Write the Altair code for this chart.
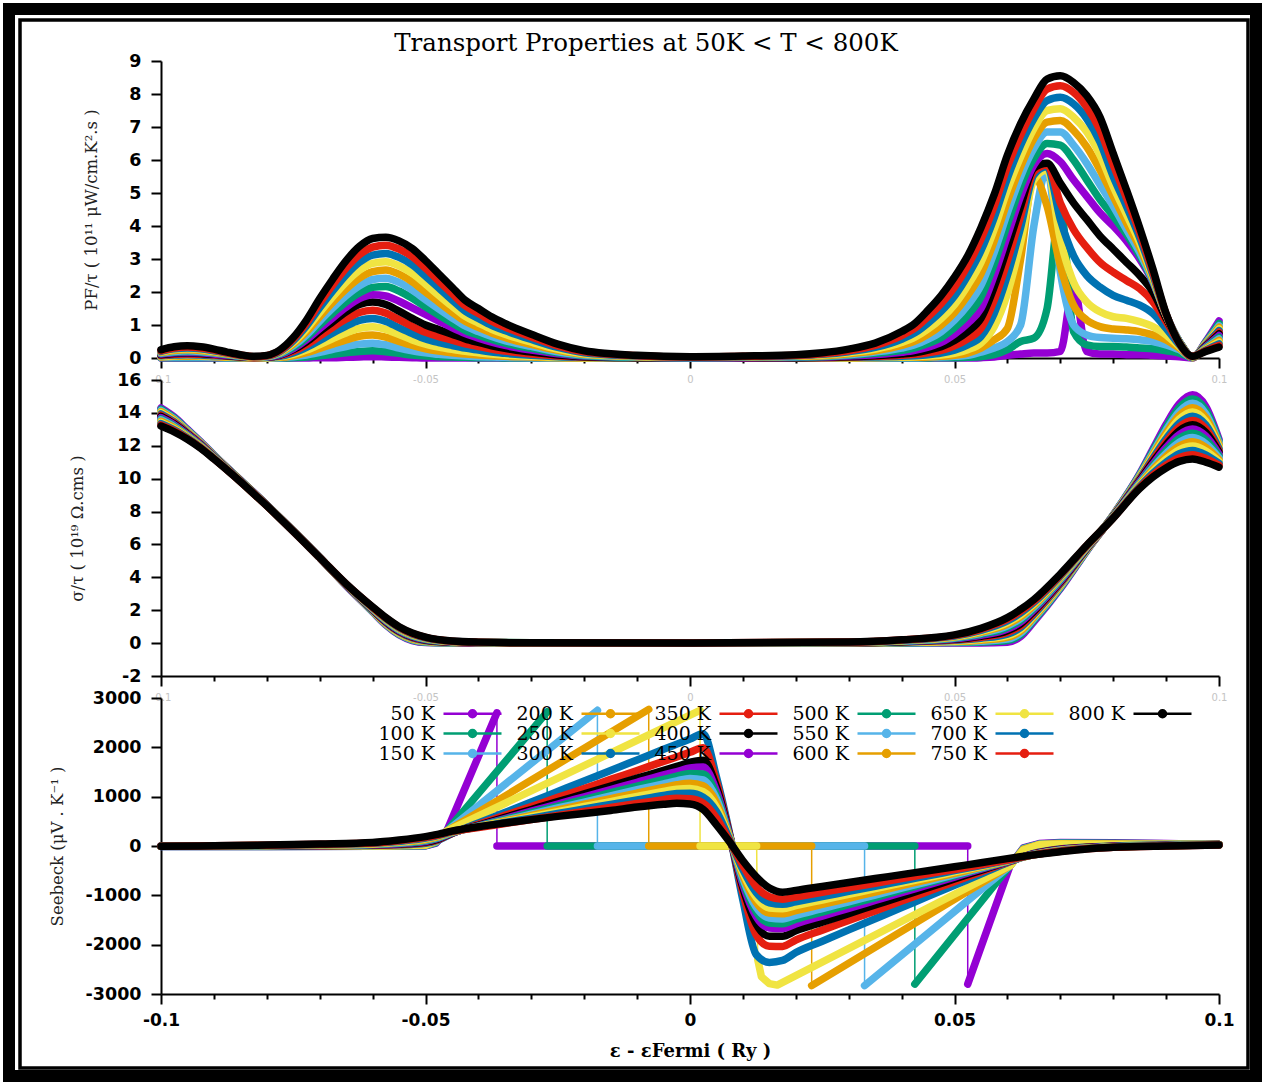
import altair as alt
import pandas as pd

FIG = "\u2007"
MINUS = "\u2212"

TEMPS = [FIG + "50 K", "100 K", "150 K", "200 K", "250 K", "300 K", "350 K", "400 K",
         "450 K", "500 K", "550 K", "600 K", "650 K", "700 K", "750 K", "800 K"]
PALETTE = ["#9400d3", "#009e73", "#56b4e9", "#e69f00", "#f0e442", "#0072b2", "#e51e10", "#000000"]
SERIES_COLORS = PALETTE + PALETTE

# ---------------- PF/tau panel ----------------
X_PF = [-0.1, -0.0975, -0.095, -0.0925, -0.09, -0.0875, -0.085, -0.0825, -0.08, -0.0775,
        -0.075, -0.0725, -0.07, -0.0675, -0.065, -0.0625, -0.06, -0.0575, -0.055, -0.0525,
        -0.05, -0.0475, -0.045, -0.0425, -0.04, -0.0375, -0.035, -0.03, -0.025, -0.02,
        -0.01, 0.0, 0.01, 0.02, 0.025, 0.03, 0.035, 0.04, 0.0425, 0.045,
        0.0475, 0.05, 0.0525, 0.055, 0.0575, 0.06, 0.0625, 0.065, 0.0675, 0.07,
        0.0725, 0.075, 0.0775, 0.08, 0.0825, 0.085, 0.0875, 0.09, 0.0925, 0.095, 0.0975, 0.1]

PF_50 = [0, 0, 0, 0, 0, 0, 0, 0, 0, 0, 0, 0, 0.01, 0.01, 0.02, 0.03, 0.04, 0.03, 0.02, 0.01, 0, 0, 0, 0, 0, 0, 0, 0, 0, 0, 0, 0,
         0, 0, 0, 0, 0, 0, 0, 0, 0, 0, 0, 0.01, 0.03, 0.08, 0.12, 0.15, 0.15, 0.2, 2.2, 0.2, 0.12, 0.12, 0.1, 0.1, 0.08, 0.06, 0.04, 0.0, 0.5, 1.12]
PF_100 = [0.01, 0.01, 0.01, 0.01, 0.01, 0, 0, 0, 0, 0, 0.01, 0.03, 0.07, 0.11, 0.16, 0.20, 0.22, 0.19, 0.14, 0.09, 0.06, 0.04, 0.03, 0.02, 0.01, 0.01, 0, 0, 0, 0, 0, 0,
          0, 0, 0, 0, 0, 0, 0, 0, 0.01, 0.01, 0.02, 0.04, 0.1, 0.25, 0.5, 0.6, 1.5, 4.6, 0.8, 0.4, 0.35, 0.35, 0.33, 0.3, 0.28, 0.22, 0.15, 0.01, 0.48, 1.05]
PF_150 = [0.02, 0.03, 0.03, 0.03, 0.02, 0.01, 0.01, 0.0, 0.0, 0.01, 0.04, 0.09, 0.17, 0.26, 0.35, 0.42, 0.45, 0.40, 0.30, 0.22, 0.16, 0.11, 0.08, 0.06, 0.04, 0.03, 0.02, 0.01, 0.0, 0.0, 0.0, 0.0,
          0, 0, 0, 0, 0, 0.01, 0.01, 0.02, 0.03, 0.05, 0.08, 0.18, 0.3, 0.5, 1.0, 4.0, 5.7, 2.6, 1.0, 0.7, 0.62, 0.6, 0.58, 0.55, 0.5, 0.4, 0.25, 0.01, 0.46, 0.98]
PF_200 = [0.03, 0.05, 0.05, 0.05, 0.04, 0.02, 0.01, 0.0, 0.01, 0.02, 0.07, 0.16, 0.29, 0.42, 0.55, 0.66, 0.70, 0.63, 0.50, 0.38, 0.28, 0.21, 0.16, 0.12, 0.09, 0.07, 0.05, 0.03, 0.01, 0.0, 0.0, 0.0,
          0, 0, 0, 0, 0.01, 0.02, 0.02, 0.03, 0.05, 0.08, 0.15, 0.3, 0.55, 0.9, 3.0, 5.5, 4.6, 2.8, 1.6, 1.15, 0.95, 0.88, 0.85, 0.8, 0.7, 0.55, 0.3, 0.01, 0.44, 0.93]
PF_250 = [0.05, 0.07, 0.08, 0.07, 0.06, 0.04, 0.02, 0.01, 0.01, 0.04, 0.11, 0.24, 0.41, 0.59, 0.76, 0.90, 0.95, 0.87, 0.71, 0.55, 0.42, 0.33, 0.26, 0.20, 0.16, 0.12, 0.09, 0.05, 0.02, 0.01, 0.0, 0.0,
          0, 0, 0, 0.01, 0.02, 0.03, 0.04, 0.06, 0.09, 0.14, 0.25, 0.45, 0.95, 1.95, 3.5, 5.4, 5.7, 3.6, 2.3, 1.7, 1.4, 1.25, 1.2, 1.1, 0.95, 0.7, 0.35, 0.02, 0.42, 0.88]
PF_300 = [0.07, 0.09, 0.10, 0.09, 0.07, 0.05, 0.03, 0.01, 0.02, 0.05, 0.15, 0.32, 0.53, 0.76, 0.97, 1.14, 1.20, 1.11, 0.92, 0.74, 0.58, 0.47, 0.38, 0.30, 0.24, 0.18, 0.14, 0.08, 0.04, 0.02, 0.0, 0.0,
          0.0, 0.0, 0.01, 0.02, 0.03, 0.05, 0.07, 0.1, 0.15, 0.24, 0.4, 0.65, 1.35, 2.5, 3.95, 5.55, 5.8, 4.2, 3.1, 2.5, 2.15, 1.9, 1.75, 1.6, 1.35, 0.9, 0.4, 0.02, 0.4, 0.83]
PF_350 = [0.08, 0.11, 0.12, 0.11, 0.09, 0.06, 0.03, 0.01, 0.02, 0.07, 0.20, 0.40, 0.66, 0.93, 1.18, 1.38, 1.45, 1.36, 1.16, 0.96, 0.78, 0.65, 0.54, 0.43, 0.35, 0.27, 0.21, 0.12, 0.06, 0.03, 0.01, 0.0,
          0.0, 0.01, 0.01, 0.03, 0.05, 0.08, 0.11, 0.16, 0.23, 0.37, 0.58, 0.9, 1.75, 2.95, 4.3, 5.65, 5.85, 4.7, 3.9, 3.35, 2.9, 2.6, 2.35, 2.1, 1.7, 1.1, 0.45, 0.02, 0.38, 0.78]
PF_400 = [0.10, 0.14, 0.15, 0.14, 0.11, 0.07, 0.04, 0.02, 0.03, 0.09, 0.25, 0.49, 0.80, 1.10, 1.40, 1.62, 1.70, 1.62, 1.42, 1.20, 1.00, 0.86, 0.72, 0.58, 0.47, 0.37, 0.29, 0.18, 0.09, 0.04, 0.01, 0.0,
          0.01, 0.01, 0.02, 0.04, 0.07, 0.12, 0.16, 0.24, 0.34, 0.53, 0.8, 1.2, 2.15, 3.35, 4.6, 5.75, 5.9, 5.3, 4.7, 4.2, 3.7, 3.3, 2.9, 2.5, 2.0, 1.2, 0.5, 0.03, 0.36, 0.73]
PF_450 = [0.12, 0.16, 0.17, 0.16, 0.12, 0.08, 0.05, 0.02, 0.03, 0.10, 0.28, 0.55, 0.89, 1.22, 1.54, 1.80, 1.92, 1.88, 1.72, 1.52, 1.32, 1.12, 0.92, 0.74, 0.60, 0.48, 0.38, 0.24, 0.13, 0.06, 0.02, 0.01,
          0.01, 0.02, 0.03, 0.06, 0.1, 0.17, 0.23, 0.33, 0.47, 0.72, 1.05, 1.5, 2.5, 3.7, 4.9, 5.85, 6.2, 5.95, 5.4, 4.9, 4.4, 4.0, 3.55, 3.0, 2.3, 1.3, 0.5, 0.03, 0.34, 0.68]
PF_500 = [0.14, 0.18, 0.20, 0.18, 0.15, 0.10, 0.05, 0.02, 0.04, 0.12, 0.32, 0.62, 1.00, 1.36, 1.70, 1.97, 2.14, 2.17, 2.03, 1.81, 1.55, 1.30, 1.06, 0.84, 0.69, 0.56, 0.45, 0.29, 0.16, 0.07, 0.02, 0.01,
          0.02, 0.03, 0.04, 0.08, 0.14, 0.23, 0.31, 0.44, 0.62, 0.92, 1.3, 1.85, 2.85, 4.05, 5.2, 6.05, 6.5, 6.45, 6.0, 5.4, 4.8, 4.3, 3.75, 3.1, 2.32, 1.3, 0.5, 0.03, 0.32, 0.63]
PF_550 = [0.15, 0.20, 0.22, 0.20, 0.16, 0.11, 0.06, 0.03, 0.04, 0.14, 0.37, 0.70, 1.12, 1.52, 1.89, 2.19, 2.38, 2.42, 2.29, 2.06, 1.77, 1.49, 1.22, 0.97, 0.80, 0.65, 0.53, 0.35, 0.19, 0.09, 0.03, 0.01,
          0.02, 0.04, 0.06, 0.1, 0.18, 0.3, 0.4, 0.57, 0.8, 1.15, 1.6, 2.2, 3.2, 4.4, 5.5, 6.35, 6.85, 6.85, 6.45, 5.9, 5.25, 4.6, 3.9, 3.2, 2.35, 1.3, 0.49, 0.04, 0.3, 0.58]
PF_600 = [0.17, 0.23, 0.25, 0.23, 0.18, 0.12, 0.07, 0.03, 0.05, 0.16, 0.42, 0.79, 1.25, 1.69, 2.09, 2.42, 2.62, 2.67, 2.54, 2.31, 2.00, 1.69, 1.39, 1.11, 0.93, 0.76, 0.62, 0.41, 0.23, 0.11, 0.04, 0.02,
          0.03, 0.05, 0.07, 0.13, 0.22, 0.38, 0.51, 0.72, 1.0, 1.38, 1.9, 2.55, 3.55, 4.75, 5.8, 6.65, 7.15, 7.2, 6.9, 6.4, 5.7, 4.9, 4.1, 3.35, 2.4, 1.3, 0.48, 0.04, 0.28, 0.53]
PF_650 = [0.19, 0.26, 0.28, 0.26, 0.20, 0.14, 0.08, 0.03, 0.05, 0.18, 0.47, 0.88, 1.38, 1.86, 2.30, 2.66, 2.87, 2.92, 2.79, 2.56, 2.24, 1.90, 1.57, 1.26, 1.06, 0.87, 0.72, 0.48, 0.27, 0.13, 0.05, 0.02,
          0.04, 0.06, 0.09, 0.16, 0.27, 0.47, 0.63, 0.88, 1.2, 1.62, 2.2, 2.9, 3.9, 5.1, 6.1, 6.95, 7.5, 7.55, 7.3, 6.85, 6.15, 5.2, 4.35, 3.5, 2.45, 1.31, 0.47, 0.04, 0.26, 0.48]
PF_700 = [0.20, 0.28, 0.30, 0.28, 0.22, 0.15, 0.08, 0.04, 0.06, 0.20, 0.52, 0.97, 1.52, 2.04, 2.52, 2.90, 3.12, 3.17, 3.05, 2.82, 2.48, 2.12, 1.76, 1.42, 1.20, 0.99, 0.83, 0.56, 0.32, 0.16, 0.06, 0.03,
          0.04, 0.07, 0.11, 0.19, 0.32, 0.57, 0.76, 1.06, 1.42, 1.88, 2.5, 3.25, 4.25, 5.45, 6.45, 7.25, 7.8, 7.9, 7.7, 7.25, 6.55, 5.5, 4.6, 3.65, 2.52, 1.32, 0.46, 0.05, 0.24, 0.43]
PF_750 = [0.22, 0.30, 0.33, 0.30, 0.24, 0.16, 0.09, 0.04, 0.07, 0.22, 0.57, 1.06, 1.66, 2.22, 2.73, 3.13, 3.36, 3.42, 3.30, 3.07, 2.72, 2.33, 1.95, 1.58, 1.35, 1.12, 0.94, 0.64, 0.37, 0.19, 0.07, 0.03,
          0.05, 0.08, 0.13, 0.22, 0.38, 0.68, 0.9, 1.25, 1.65, 2.15, 2.8, 3.6, 4.6, 5.8, 6.75, 7.55, 8.15, 8.25, 8.05, 7.6, 6.9, 5.85, 4.85, 3.8, 2.6, 1.33, 0.45, 0.05, 0.22, 0.38]
PF_800 = [0.25, 0.34, 0.37, 0.34, 0.27, 0.18, 0.10, 0.05, 0.08, 0.25, 0.62, 1.15, 1.80, 2.40, 2.95, 3.38, 3.62, 3.66, 3.55, 3.32, 2.95, 2.55, 2.15, 1.75, 1.50, 1.25, 1.05, 0.72, 0.42, 0.22, 0.08, 0.04,
          0.06, 0.10, 0.16, 0.27, 0.45, 0.8, 1.05, 1.45, 1.9, 2.45, 3.1, 3.95, 4.95, 6.15, 7.1, 7.85, 8.45, 8.55, 8.35, 7.95, 7.3, 6.2, 5.1, 3.95, 2.7, 1.35, 0.45, 0.05, 0.2, 0.33]

# ---------------- sigma/tau panel ----------------
X_SG = [-0.1, -0.0975, -0.095, -0.0925, -0.09, -0.08, -0.07, -0.065, -0.06, -0.0575,
        -0.055, -0.0525, -0.05, -0.045, -0.04, -0.03, 0.0, 0.03, 0.04, 0.05,
        0.055, 0.06, 0.0625, 0.065, 0.07, 0.075, 0.08, 0.085, 0.0875, 0.09,
        0.0925, 0.095, 0.0975, 0.1]
SG_50 = [14.3, 13.75, 13.0, 12.25, 11.45, 8.4, 5.2, 3.5, 1.9, 1.1, 0.5, 0.15, 0.03, 0.0, 0.0, 0.0, 0.0, 0.0, 0.0, 0.0, 0.0, 0.05, 0.4, 1.3, 3.3, 5.6, 7.8, 10.3, 11.8, 13.3, 14.55, 15.1, 14.4, 12.4]
SG_100 = [14.23, 13.69, 12.96, 12.22, 11.43, 8.4, 5.2, 3.51, 1.92, 1.13, 0.53, 0.18, 0.05, 0.01, 0.0, 0.0, 0.0, 0.0, 0.01, 0.03, 0.06, 0.15, 0.51, 1.39, 3.36, 5.62, 7.79, 10.24, 11.69, 13.12, 14.32, 14.84, 14.17, 12.29]
SG_150 = [14.15, 13.63, 12.92, 12.2, 11.42, 8.39, 5.2, 3.51, 1.94, 1.16, 0.57, 0.21, 0.08, 0.02, 0.01, 0.0, 0.0, 0.01, 0.03, 0.07, 0.12, 0.25, 0.62, 1.48, 3.42, 5.65, 7.77, 10.18, 11.57, 12.95, 14.08, 14.58, 13.95, 12.17]
SG_200 = [14.08, 13.57, 12.88, 12.17, 11.4, 8.39, 5.2, 3.52, 1.96, 1.19, 0.6, 0.24, 0.1, 0.03, 0.01, 0.0, 0.0, 0.01, 0.04, 0.1, 0.18, 0.35, 0.73, 1.57, 3.48, 5.67, 7.76, 10.12, 11.46, 12.77, 13.85, 14.32, 13.72, 12.06]
SG_250 = [14.01, 13.51, 12.84, 12.14, 11.38, 8.39, 5.2, 3.53, 1.98, 1.22, 0.63, 0.28, 0.12, 0.03, 0.02, 0.01, 0.0, 0.02, 0.05, 0.13, 0.24, 0.45, 0.84, 1.66, 3.54, 5.69, 7.75, 10.06, 11.35, 12.59, 13.62, 14.06, 13.49, 11.95]
SG_300 = [13.93, 13.45, 12.8, 12.12, 11.37, 8.38, 5.2, 3.53, 2.0, 1.25, 0.67, 0.31, 0.14, 0.04, 0.02, 0.01, 0.0, 0.02, 0.07, 0.17, 0.3, 0.55, 0.95, 1.75, 3.6, 5.72, 7.73, 10.0, 11.23, 12.42, 13.38, 13.8, 13.27, 11.83]
SG_350 = [13.86, 13.39, 12.76, 12.09, 11.35, 8.38, 5.2, 3.54, 2.02, 1.28, 0.7, 0.34, 0.17, 0.05, 0.02, 0.01, 0.0, 0.02, 0.08, 0.2, 0.36, 0.65, 1.06, 1.84, 3.66, 5.74, 7.72, 9.94, 11.12, 12.24, 13.15, 13.54, 13.04, 11.72]
SG_400 = [13.79, 13.33, 12.72, 12.06, 11.33, 8.38, 5.2, 3.55, 2.04, 1.31, 0.73, 0.37, 0.19, 0.06, 0.03, 0.01, 0.0, 0.03, 0.09, 0.23, 0.42, 0.75, 1.17, 1.93, 3.72, 5.76, 7.71, 9.88, 11.01, 12.06, 12.92, 13.28, 12.81, 11.61]
SG_450 = [13.71, 13.27, 12.68, 12.04, 11.32, 8.37, 5.2, 3.55, 2.06, 1.34, 0.77, 0.4, 0.21, 0.07, 0.03, 0.01, 0.0, 0.03, 0.11, 0.27, 0.48, 0.85, 1.28, 2.02, 3.78, 5.79, 7.69, 9.82, 10.89, 11.89, 12.68, 13.02, 12.59, 11.49]
SG_500 = [13.64, 13.21, 12.64, 12.01, 11.3, 8.37, 5.2, 3.56, 2.08, 1.37, 0.8, 0.43, 0.23, 0.08, 0.04, 0.01, 0.01, 0.04, 0.12, 0.3, 0.54, 0.95, 1.39, 2.11, 3.84, 5.81, 7.68, 9.76, 10.78, 11.71, 12.45, 12.76, 12.36, 11.38]
SG_550 = [13.57, 13.15, 12.6, 11.98, 11.28, 8.37, 5.2, 3.57, 2.1, 1.4, 0.83, 0.46, 0.26, 0.09, 0.04, 0.01, 0.01, 0.04, 0.13, 0.33, 0.6, 1.05, 1.5, 2.2, 3.9, 5.83, 7.67, 9.7, 10.67, 11.53, 12.22, 12.5, 12.13, 11.27]
SG_600 = [13.49, 13.09, 12.56, 11.96, 11.27, 8.36, 5.2, 3.57, 2.12, 1.43, 0.87, 0.49, 0.28, 0.1, 0.04, 0.01, 0.01, 0.04, 0.15, 0.37, 0.66, 1.15, 1.61, 2.29, 3.96, 5.86, 7.65, 9.64, 10.55, 11.36, 11.98, 12.24, 11.91, 11.15]
SG_650 = [13.42, 13.03, 12.52, 11.93, 11.25, 8.36, 5.2, 3.58, 2.14, 1.46, 0.9, 0.53, 0.3, 0.1, 0.05, 0.02, 0.01, 0.05, 0.16, 0.4, 0.72, 1.25, 1.72, 2.38, 4.02, 5.88, 7.64, 9.58, 10.44, 11.18, 11.75, 11.98, 11.68, 11.04]
SG_700 = [13.35, 12.97, 12.48, 11.9, 11.23, 8.36, 5.2, 3.59, 2.16, 1.49, 0.93, 0.56, 0.32, 0.11, 0.05, 0.02, 0.01, 0.05, 0.17, 0.43, 0.78, 1.35, 1.83, 2.47, 4.08, 5.9, 7.63, 9.52, 10.33, 11.0, 11.52, 11.72, 11.45, 10.93]
SG_750 = [13.27, 12.91, 12.44, 11.88, 11.22, 8.35, 5.2, 3.59, 2.18, 1.52, 0.97, 0.59, 0.35, 0.12, 0.06, 0.02, 0.01, 0.06, 0.19, 0.47, 0.84, 1.45, 1.94, 2.56, 4.14, 5.93, 7.61, 9.46, 10.21, 10.83, 11.28, 11.46, 11.23, 10.81]
SG_800 = [13.2, 12.85, 12.4, 11.85, 11.2, 8.35, 5.2, 3.6, 2.2, 1.55, 1.0, 0.62, 0.37, 0.13, 0.06, 0.02, 0.01, 0.06, 0.2, 0.5, 0.9, 1.55, 2.05, 2.65, 4.2, 5.95, 7.6, 9.4, 10.1, 10.65, 11.05, 11.2, 11.0, 10.7]

# ---------------- Seebeck panel ----------------
SBX_50 = [-0.1, -0.08, -0.06, -0.05, -0.048, -0.046, -0.0365, -0.0365, 0.0525, 0.0525, 0.0605, 0.063, 0.066, 0.07, 0.08, 0.09, 0.1]
SBY_50 = [-10, -10, -5, 0, 60, 300, 2700, 0, 0, -2800, -400, -40, 50, 70, 65, 50, 30]
SBS_50 = [0, 0, 0, 0, 0, 0, 0, 1, 1, 2, 2, 2, 2, 2, 2, 2, 2]
SBX_100 = [-0.1, -0.08, -0.06, -0.05, -0.048, -0.046, -0.027, -0.027, 0.0425, 0.0425, 0.0605, 0.063, 0.066, 0.07, 0.08, 0.09, 0.1]
SBY_100 = [-8, -8, -4, 5, 70, 300, 2720, 0, 0, -2800, -400, -50, 40, 60, 55, 45, 30]
SBS_100 = [0, 0, 0, 0, 0, 0, 0, 1, 1, 2, 2, 2, 2, 2, 2, 2, 2]
SBX_150 = [-0.1, -0.08, -0.06, -0.05, -0.048, -0.046, -0.0175, -0.0175, 0.033, 0.033, 0.0605, 0.063, 0.066, 0.07, 0.08, 0.09, 0.1]
SBY_150 = [-6, -6, -2, 10, 80, 300, 2750, 0, 0, -2830, -400, -60, 35, 50, 45, 40, 30]
SBS_150 = [0, 0, 0, 0, 0, 0, 0, 1, 1, 2, 2, 2, 2, 2, 2, 2, 2]
SBX_200 = [-0.1, -0.08, -0.06, -0.05, -0.048, -0.046, -0.0078, -0.0078, 0.023, 0.023, 0.0605, 0.063, 0.066, 0.07, 0.08, 0.09, 0.1]
SBY_200 = [-5, -5, 0, 15, 90, 300, 2770, 0, 0, -2830, -400, -70, 30, 45, 40, 35, 30]
SBS_200 = [0, 0, 0, 0, 0, 0, 0, 1, 1, 2, 2, 2, 2, 2, 2, 2, 2]
SBX_250 = [-0.1, -0.08, -0.06, -0.05, -0.048, -0.046, 0.0019, 0.0019, 0.0126, 0.0128, 0.0135, 0.015, 0.0165, 0.0605, 0.063, 0.066, 0.07, 0.08, 0.09, 0.1]
SBY_250 = [-4, -4, 0, 20, 100, 300, 2750, 0, 0, -2300, -2650, -2790, -2820, -400, -80, 25, 40, 35, 30, 30]
SBS_250 = [0, 0, 0, 0, 0, 0, 0, 1, 1, 2, 2, 2, 2, 2, 2, 2, 2, 2, 2, 2]

X_SB = [-0.1, -0.09, -0.08, -0.07, -0.06, -0.055, -0.05, -0.0475, -0.045,
        -0.04, -0.035, -0.03, -0.025, -0.02, -0.015, -0.01, -0.005, -0.0025, 0.0, 0.0025, 0.005, 0.0075, 0.01, 0.0125, 0.015,
        0.0175, 0.02, 0.025, 0.03, 0.035, 0.04, 0.045, 0.05, 0.055, 0.06, 0.065, 0.07, 0.075, 0.08, 0.09, 0.1]
SB_300 = [-1, 0, 2, 5, 11, 23, 57, 123, 250, 465, 677, 890, 1105, 1320, 1530, 1745, 1960, 2065, 2170, 2275, 1400, 250, -1100, -2200, -2360,
          -2320, -2160, -1930, -1700, -1475, -1250, -1020, -795, -570, -340, -150, -60, -20, 0, 20, 30]
SB_350 = [-1, 0, 3, 7, 15, 30, 68, 134, 255, 438, 620, 800, 985, 1165, 1350, 1530, 1715, 1805, 1900, 1990, 1300, 230, -950, -1800, -2030,
          -2035, -1905, -1705, -1510, -1315, -1115, -920, -725, -525, -330, -155, -65, -25, -5, 15, 30]
SB_400 = [-2, 0, 4, 9, 20, 38, 80, 145, 260, 420, 580, 740, 900, 1055, 1215, 1375, 1535, 1615, 1695, 1740, 1200, 210, -850, -1580, -1830,
          -1830, -1720, -1545, -1370, -1195, -1020, -845, -670, -495, -320, -160, -70, -30, -8, 12, 28]
SB_450 = [-2, 0, 5, 12, 25, 47, 92, 156, 265, 410, 555, 705, 850, 998, 1145, 1290, 1440, 1510, 1580, 1600, 1120, 200, -780, -1430, -1660,
          -1670, -1580, -1420, -1265, -1105, -945, -790, -630, -470, -315, -165, -75, -35, -10, 10, 27]
SB_500 = [-3, 1, 6, 15, 30, 56, 105, 168, 270, 405, 540, 675, 810, 945, 1080, 1215, 1350, 1415, 1470, 1460, 1040, 190, -720, -1330, -1560,
          -1575, -1485, -1340, -1190, -1045, -895, -750, -600, -455, -310, -170, -80, -38, -13, 8, 26]
SB_550 = [-3, 1, 8, 18, 36, 65, 118, 180, 275, 398, 520, 645, 770, 890, 1015, 1140, 1260, 1320, 1370, 1340, 960, 180, -660, -1240, -1460,
          -1480, -1405, -1270, -1130, -995, -855, -720, -580, -445, -305, -172, -85, -42, -16, 6, 25]
SB_600 = [-4, 2, 10, 22, 42, 75, 132, 192, 280, 393, 507, 620, 733, 847, 960, 1073, 1185, 1240, 1270, 1220, 880, 170, -600, -1140, -1360,
          -1375, -1310, -1185, -1060, -935, -805, -680, -555, -430, -300, -175, -90, -45, -18, 5, 24]
SB_650 = [-4, 2, 12, 26, 48, 85, 146, 204, 285, 388, 490, 593, 696, 800, 900, 1005, 1105, 1150, 1165, 1100, 790, 150, -540, -1040, -1255,
          -1270, -1210, -1095, -980, -865, -750, -640, -525, -410, -295, -177, -95, -48, -20, 4, 23]
SB_700 = [-5, 3, 14, 30, 55, 96, 160, 216, 290, 382, 475, 566, 660, 750, 843, 935, 1025, 1065, 1070, 990, 700, 130, -480, -940, -1150,
          -1180, -1130, -1025, -920, -815, -710, -605, -500, -395, -290, -178, -100, -52, -23, 3, 22]
SB_750 = [-5, 4, 17, 35, 62, 108, 175, 228, 295, 375, 456, 537, 618, 700, 780, 860, 940, 970, 960, 870, 570, 100, -400, -820, -1030,
          -1080, -1035, -940, -845, -755, -660, -565, -475, -380, -285, -180, -108, -56, -27, 2, 21]
SB_800 = [-5, 5, 20, 40, 70, 120, 190, 240, 300, 390, 465, 535, 600, 660, 720, 790, 845, 865, 850, 740, 430, 80, -300, -620, -850,
          -935, -900, -820, -740, -660, -580, -500, -420, -340, -255, -180, -115, -60, -27, 2, 20]

# ticks
X_TICKS = [-0.1, -0.09, -0.08, -0.07, -0.06, -0.05, -0.04, -0.03, -0.02, -0.01, 0.0,
           0.01, 0.02, 0.03, 0.04, 0.05, 0.06, 0.07, 0.08, 0.09, 0.1]
PF_TICKS = [0, 1, 2, 3, 4, 5, 6, 7, 8, 9]
SG_TICKS = [-2, 0, 2, 4, 6, 8, 10, 12, 14, 16]
SB_TICKS = [-3000, -2000, -1000, 0, 1000, 2000, 3000]

# ---------------- build tables ----------------
PF_SERIES = [PF_50, PF_100, PF_150, PF_200, PF_250, PF_300, PF_350, PF_400,
             PF_450, PF_500, PF_550, PF_600, PF_650, PF_700, PF_750, PF_800]
SG_SERIES = [SG_50, SG_100, SG_150, SG_200, SG_250, SG_300, SG_350, SG_400,
             SG_450, SG_500, SG_550, SG_600, SG_650, SG_700, SG_750, SG_800]
SB_LOW = [(SBX_50, SBY_50, SBS_50), (SBX_100, SBY_100, SBS_100), (SBX_150, SBY_150, SBS_150),
          (SBX_200, SBY_200, SBS_200), (SBX_250, SBY_250, SBS_250)]
SB_HIGH = [SB_300, SB_350, SB_400, SB_450, SB_500, SB_550, SB_600, SB_650, SB_700, SB_750, SB_800]


def table(xs_list, ys_list, names, segs_list=None):
    rows = []
    for k, (xs, ys, name) in enumerate(zip(xs_list, ys_list, names)):
        for i, (x, y) in enumerate(zip(xs, ys)):
            r = {"x": x, "v": y, "T": name, "k": k, "i": i}
            if segs_list is not None:
                r["seg"] = segs_list[k][i]
            rows.append(r)
    return pd.DataFrame(rows)


pf_df = table([X_PF] * 16, PF_SERIES, TEMPS)
sg_df = table([X_SG] * 16, SG_SERIES, TEMPS)
sb_low_df = table([s[0] for s in SB_LOW], [s[1] for s in SB_LOW], TEMPS[:5], [s[2] for s in SB_LOW])
sb_high_df = table([X_SB] * 11, SB_HIGH, TEMPS[5:])

# legend: 3 rows x 6 columns filled column by column; two blank slots complete the grid
LEG_DOMAIN = TEMPS + [" ", "  "]
LEG_RANGE = SERIES_COLORS + ["rgba(0,0,0,0)", "rgba(0,0,0,0)"]

# symbol = short line with a dot, drawn to the right of the (right-aligned) label
SYMBOL = ("M2.25,0L9.5,0"
          "M6.315,0A0.44,0.44,0,1,1,5.435,0A0.44,0.44,0,1,1,6.315,0"
          "M6.065,0A0.19,0.19,0,1,1,5.685,0A0.19,0.19,0,1,1,6.065,0")

LEGEND = alt.Legend(
    orient="none", legendX=215, legendY=643, columns=6, title=None,
    symbolType=SYMBOL, symbolSize=256, symbolStrokeWidth=2.5, symbolOffset=40,
    symbolFillColor="transparent",
    labelOffset=0, labelAlign="right", labelFont="DejaVu Serif", labelFontSize=19,
    labelColor="black", labelLimit=0, columnPadding=7, rowPadding=-3,
)
COLOR = alt.Color("T:N", scale=alt.Scale(domain=LEG_DOMAIN, range=LEG_RANGE), legend=LEGEND)

MAJOR = "abs(round(datum.value * 100)) % 5 == 0"
X_LABELS = MAJOR + " ? replace(format(datum.value, '~g'), '" + MINUS + "', '-') : ''"
Y_LABELS = "replace(format(datum.value, 'd'), '" + MINUS + "', '-')"
X_SCALE = alt.Scale(domain=[-0.1, 0.1], nice=False, zero=False)


def x_axis(bottom):
    kw = dict(values=X_TICKS, labelExpr=X_LABELS,
              tickSize={"condition": {"test": MAJOR, "value": 10}, "value": 5},
              tickWidth=2, tickColor="black", domainColor="black", domainWidth=2,
              grid=False, labelFlush=False, labelOverlap=False, labelFont="DejaVu Sans")
    if bottom:
        kw.update(labelFontWeight="bold", labelFontSize=17, labelColor="black", labelPadding=8,
                  title="\u03b5 - \u03b5Fermi ( Ry )", titleFont="DejaVu Serif", titleFontWeight="bold",
                  titleFontSize=18, titleColor="black", titlePadding=14)
    else:
        kw.update(labelFontSize=10, labelColor="#c4c4c4", labelPadding=6, title=None)
    return alt.Axis(**kw)


def y_axis(values, title, title_x):
    return alt.Axis(values=values, labelExpr=Y_LABELS, tickSize=10, tickWidth=2, tickColor="black",
                    domainColor="black", domainWidth=2, grid=False, labelPadding=10,
                    labelFont="DejaVu Sans", labelFontWeight="bold", labelFontSize=17.5, labelColor="black",
                    title=title, titleFont="DejaVu Serif", titleFontSize=16.5, titleFontWeight="normal",
                    titleColor="#222222", titleX=title_x)


def line_layer(df, y_scale, yax, xax, interp, sw, detail=None):
    enc = dict(x=alt.X("x:Q", scale=X_SCALE, axis=xax),
               y=alt.Y("v:Q", scale=y_scale, axis=yax),
               color=COLOR, order=alt.Order("i:Q"), strokeWidth=alt.value(sw))
    if detail is not None:
        enc["detail"] = detail
    return alt.Chart(df).mark_line(interpolate=interp, strokeCap="round", strokeJoin="round").encode(**enc)


pf_y = alt.Scale(domain=[0, 9], nice=False)
pf_yax = y_axis(PF_TICKS, "PF/\u03c4 ( 10\u00b9\u00b9  \u03bcW/cm.K\u00b2.s )", -62)
top = line_layer(pf_df, pf_y, pf_yax, x_axis(False), "monotone", 7.5).properties(
    width=1058, height=297,
    title=alt.TitleParams(text="Transport Properties at  50K < T < 800K", font="DejaVu Serif",
                          fontSize=24.5, fontWeight="normal", color="black", anchor="middle",
                          dx=-44, dy=12, offset=8))

sg_y = alt.Scale(domain=[-2, 16], nice=False)
sg_yax = y_axis(SG_TICKS, "\u03c3/\u03c4  ( 10\u00b9\u2079 \u03a9.cms )", -76)
mid = line_layer(sg_df, sg_y, sg_yax, x_axis(False), "monotone", 7.5).properties(width=1058, height=296)

sb_y = alt.Scale(domain=[-3000, 3000], nice=False)
sb_yax = y_axis(SB_TICKS, "Seebeck (\u03bcV . K\u207b\u00b9 )", -96)
xb = x_axis(True)
sb_thin = line_layer(sb_low_df, sb_y, sb_yax, xb, "linear", 1.5)
sb_thick = line_layer(sb_low_df, sb_y, sb_yax, xb, "linear", 7.5, detail="seg:N")
sb_high = line_layer(sb_high_df, sb_y, sb_yax, xb, "monotone", 7.5)

# decorative double frame around the whole figure (pixel offsets from this panel's origin)
one = pd.DataFrame({"a": [0]})
frame_outer = alt.Chart(one).mark_rect(fillOpacity=0, stroke="black", strokeWidth=12).encode(
    x=alt.value(-152), x2=alt.value(1095), y=alt.value(-689), y2=alt.value(378))
frame_inner = alt.Chart(one).mark_rect(fillOpacity=0, stroke="black", strokeWidth=3.5).encode(
    x=alt.value(-141), x2=alt.value(1087), y=alt.value(-678), y2=alt.value(370))

bot = alt.layer(sb_thin, sb_thick, sb_high, frame_outer, frame_inner).properties(width=1058, height=296)

chart = alt.vconcat(top, mid, bot, spacing=22, bounds="flush").properties(
    padding={"left": 3, "top": 3, "right": 0, "bottom": 0},
    background="white",
).configure_view(strokeWidth=0)

chart.save("out.html", embed_options={"renderer": "svg", "actions": False})
